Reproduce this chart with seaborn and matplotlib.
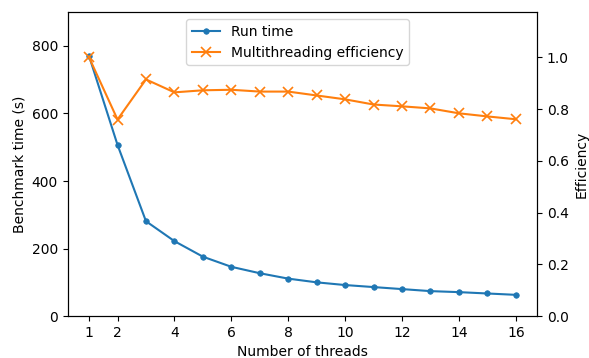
import pandas as pd
import seaborn as sns
import matplotlib.pyplot as plt

threads = list(range(1, 17))
run_time = [770, 507, 281, 222, 176, 146, 127, 111, 100, 92, 86, 80, 74, 71, 67, 63]
efficiency = [1.0, 0.76, 0.915, 0.865, 0.873, 0.875, 0.868, 0.868, 0.853, 0.838, 0.818, 0.811, 0.803, 0.784, 0.772, 0.761]
x_ticks = [1, 2, 4, 6, 8, 10, 12, 14, 16]

df = pd.DataFrame({"threads": threads, "run_time": run_time, "efficiency": efficiency})

fig, ax = plt.subplots(figsize=(5.89, 3.58), dpi=100)
ax2 = ax.twinx()

# seaborn draws white marker edges by default, so set them to the line colour
sns.lineplot(data=df, x="threads", y="run_time", ax=ax, color="C0",
             marker="o", markersize=4, markeredgecolor="C0", markeredgewidth=0.5,
             label="Run time", legend=False)
sns.lineplot(data=df, x="threads", y="efficiency", ax=ax2, color="C1",
             marker="x", markersize=7, markeredgecolor="C1", markeredgewidth=1.2,
             label="Multithreading efficiency", legend=False)

ax.set_ylim(0, 900)
ax.set_yticks([0, 200, 400, 600, 800])
ax2.set_ylim(0, 1.175)
ax.set_xticks(x_ticks)
ax.set_xlabel("Number of threads")
ax.set_ylabel("Benchmark time (s)")
ax2.set_ylabel("Efficiency")

h1, l1 = ax.get_legend_handles_labels()
h2, l2 = ax2.get_legend_handles_labels()
ax.legend(h1 + h2, l1 + l2, loc="upper center", bbox_to_anchor=(0.49, 1.0))

fig.subplots_adjust(left=0.115, right=0.912, top=0.966, bottom=0.117)
fig.savefig("out.png", dpi=100)
